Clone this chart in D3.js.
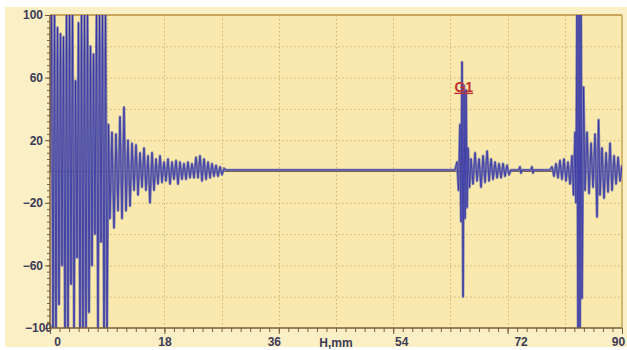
<!DOCTYPE html>
<html>
<head>
<meta charset="utf-8">
<script src="https://cdn.jsdelivr.net/npm/d3@7"></script>
<style>
  html, body { margin: 0; padding: 0; background: #ffffff; }
  svg { display: block; }
</style>
</head>
<body>
<svg id="chart" width="627" height="350"></svg>
<script>
// ---------------- DATA ----------------
const xDomain = [0, 90];          // H, mm
const yDomain = [-100, 100];      // amplitude, %
const xTickLabels = [0, 18, 36, 54, 72, 90];
const yTickLabels = [100, 60, 20, -20, -60, -100];
const xAxisTitle = "H,mm";
const gateLabel = "G1";
const gatePos = [65.1, 51];       // [mm, %] where the G1 label sits

// initial pulse / near-field burst: [mm, %]
const burst = [
  [0.00,0],[0.24,100],[0.47,-100],[0.71,100],[0.94,-100],[1.18,92],[1.42,-85],[1.65,88],[1.89,-60],[2.12,86],
  [2.36,-100],[2.60,100],[2.83,-100],[3.07,100],[3.30,-72],[3.54,100],[3.78,-100],[4.01,58],[4.25,-55],[4.48,95],
  [4.72,-100],[4.96,100],[5.19,-100],[5.43,100],[5.66,-100],[5.90,100],[6.14,-90],[6.37,80],[6.61,-60],[6.84,75],
  [7.08,-40],[7.32,100],[7.55,-100],[7.79,100],[8.02,-45],[8.26,100],[8.50,-100],[8.73,100],[8.97,-100],[9.20,30],
  [9.44,-30],[9.75,25],[10.07,-36],[10.38,24],[10.70,-25],[11.01,35],[11.33,-30],[11.64,41],[11.96,-25],[12.27,20],
  [12.59,-22],[12.90,18],[13.22,-12],[13.53,17],[13.85,-15],[14.16,12],[14.48,-10],[14.79,15],[15.10,-12],[15.42,10],
  [15.73,-20],[16.05,12],[16.36,-12],[16.68,8],[16.99,-8],[17.31,10],[17.62,-7],[17.94,6],[18.25,-6],[18.57,8],
  [18.88,-8],[19.20,6],[19.51,-5],[19.83,7],[20.14,-8],[20.45,6],[20.77,-5],[21.08,5],[21.40,-5],[21.71,6],
  [22.03,-4],[22.34,5],[22.66,-4],[22.97,9],[23.29,-4],[23.60,10],[23.92,-6],[24.23,8],[24.55,-5],[24.86,6],
  [25.18,-4],[25.49,5],[25.80,-3],[26.12,4],[26.43,-3],[26.75,3],[27.06,-2],[27.38,2],[27.69,1]
];

// flaw echo inside gate G1: [mm, %]
const echoG1 = [
  [63.73,1],[64.04,6],[64.28,-12],[64.51,30],[64.67,-32],[64.83,70],[64.99,-80],[65.14,55],[65.30,-30],[65.46,52],
  [65.62,-23],[65.77,15],[66.01,-10],[66.25,8],[66.56,-8],[66.88,12],[67.19,-6],[67.51,8],[67.82,-10],[68.14,10],
  [68.45,-7],[68.77,13],[69.08,-6],[69.40,8],[69.71,-5],[70.02,6],[70.34,-4],[70.65,5],[70.97,-4],[71.28,5],
  [71.60,-3],[71.91,4],[72.23,-2],[72.54,1],[73.78,1],[73.94,3],[74.10,-1],[74.25,1],[75.67,1],[75.83,3],
  [75.99,-1],[76.14,1]
];

// back-wall echo: [mm, %]
const backWall = [
  [78.67,1],[78.98,3],[79.30,-3],[79.61,5],[79.93,-4],[80.24,7],[80.56,-5],[80.87,8],[81.19,-6],[81.50,6],
  [81.82,-8],[82.13,10],[82.37,-15],[82.61,25],[82.76,-20],[82.92,100],[83.08,-100],[83.24,100],[83.39,-100],[83.55,100],
  [83.71,-81],[83.95,54],[84.18,-12],[84.50,25],[84.81,-14],[85.13,18],[85.44,-10],[85.76,24],[86.07,-29],[86.31,33],
  [86.54,-15],[86.86,15],[87.17,-17],[87.49,12],[87.80,-13],[88.12,18],[88.43,-12],[88.75,10],[89.06,-8],[89.38,9],
  [89.69,-6],[90.00,4]
];

const signal = burst.concat(echoG1, backWall);

// ---------------- LAYOUT ----------------
const W = 627, H = 350;
const plot = { left: 50, right: 622, top: 15, bottom: 328 };
const svg = d3.select("#chart");

const x = d3.scaleLinear().domain(xDomain).range([plot.left, plot.right]);
const y = d3.scaleLinear().domain(yDomain).range([plot.bottom, plot.top]);

const C = {
  panel: "#fbefc6",
  plot: "#f9e9af",
  grid: "#d2b266",
  axis: "#7d5c3c",
  frame: "#c9a45a",
  text: "#3b3b58",
  lineHalo: "#7474aa",
  line: "#2626a8",
  gate: "#c0322c"
};

// panel background (white margins top/left/bottom)
svg.append("rect").attr("x", 5).attr("y", 7).attr("width", W - 5).attr("height", 340).attr("fill", C.panel);
svg.append("rect").attr("x", plot.left).attr("y", plot.top)
  .attr("width", plot.right - plot.left).attr("height", plot.bottom - plot.top).attr("fill", C.plot);

// grid
const gGrid = svg.append("g");
gGrid.selectAll("line.h").data(d3.range(-80, 81, 20).filter(v => v !== 0)).join("line")
  .attr("x1", plot.left).attr("x2", plot.right)
  .attr("y1", d => y(d) + 0.5).attr("y2", d => y(d) + 0.5)
  .attr("stroke", C.grid).attr("stroke-width", 1).attr("stroke-dasharray", "1.5,2.5");
gGrid.selectAll("line.v").data(d3.range(9, 90, 9)).join("line")
  .attr("y1", plot.top).attr("y2", plot.bottom)
  .attr("x1", d => Math.round(x(d)) + 0.5).attr("x2", d => Math.round(x(d)) + 0.5)
  .attr("stroke", C.grid).attr("stroke-width", 1).attr("stroke-dasharray", "1.5,2.5");

// frame top / right
svg.append("line").attr("x1", plot.left).attr("x2", plot.right).attr("y1", plot.top).attr("y2", plot.top)
  .attr("stroke", C.frame).attr("stroke-width", 2);
svg.append("line").attr("x1", plot.right).attr("x2", plot.right).attr("y1", plot.top).attr("y2", plot.bottom)
  .attr("stroke", C.frame).attr("stroke-width", 1.5);

// zero line
svg.append("line").attr("x1", plot.left).attr("x2", plot.right).attr("y1", y(0)).attr("y2", y(0))
  .attr("stroke", C.axis).attr("stroke-width", 1.2);

// signal
svg.append("clipPath").attr("id", "clip").append("rect")
  .attr("x", plot.left).attr("y", plot.top).attr("width", plot.right - plot.left).attr("height", plot.bottom - plot.top);
const line = d3.line().x(d => x(d[0])).y(d => y(d[1]));
const gSig = svg.append("g").attr("clip-path", "url(#clip)");
gSig.append("path").datum(signal).attr("d", line).attr("fill", "none")
  .attr("stroke", C.lineHalo).attr("stroke-width", 2.6).attr("stroke-linejoin", "round").attr("opacity", 0.9);
gSig.append("path").datum(signal).attr("d", line).attr("fill", "none")
  .attr("stroke", C.line).attr("stroke-width", 0.8).attr("stroke-linejoin", "round").attr("opacity", 0.85);

// Y axis: minor ticks
const gY = svg.append("g").attr("transform", `translate(${plot.left},0)`);
gY.call(d3.axisLeft(y).tickValues(d3.range(-100, 101, 4)).tickSize(3).tickFormat(""))
  .call(g => g.select(".domain").remove())
  .call(g => g.selectAll("line").attr("stroke", C.axis));
gY.append("g").call(d3.axisLeft(y).tickValues(yTickLabels).tickSize(5).tickPadding(2).tickFormat(d3.format("d")))
  .call(g => g.select(".domain").remove())
  .call(g => g.selectAll("line").attr("stroke", C.axis))
  .call(g => g.selectAll("text")
    .attr("fill", C.text).attr("font-family", "'Liberation Sans', Arial, sans-serif")
    .attr("font-weight", "bold").attr("font-size", 12)
    .attr("dx", d => d === -100 ? 9 : 0));
gY.append("line").attr("x1", 0).attr("x2", 0).attr("y1", plot.top).attr("y2", plot.bottom)
  .attr("stroke", C.axis).attr("stroke-width", 1.5);

// X axis
const gX = svg.append("g").attr("transform", `translate(0,${plot.bottom})`);
gX.call(d3.axisBottom(x).tickValues(d3.range(0, 90.01, 1.5)).tickSize(4).tickFormat(""))
  .call(g => g.select(".domain").remove())
  .call(g => g.selectAll("line").attr("stroke", C.axis));
const labelDx = { 0: 7, 18: 0, 36: -5, 54: 8, 72: 13, 90: -4 };
gX.append("g").call(d3.axisBottom(x).tickValues(xTickLabels).tickSize(6).tickPadding(3).tickFormat(d3.format("d")))
  .call(g => g.select(".domain").remove())
  .call(g => g.selectAll("line").attr("stroke", C.axis))
  .call(g => g.selectAll("text")
    .attr("fill", C.text).attr("font-family", "'Liberation Sans', Arial, sans-serif")
    .attr("font-weight", "bold").attr("font-size", 12)
    .attr("dx", d => labelDx[d] || 0));
gX.append("line").attr("x1", plot.left).attr("x2", plot.right).attr("y1", 0).attr("y2", 0)
  .attr("stroke", C.axis).attr("stroke-width", 1.5);
gX.append("text").attr("x", x(45)).attr("y", 19).attr("text-anchor", "middle")
  .attr("fill", C.text).attr("font-family", "'Liberation Sans', Arial, sans-serif")
  .attr("font-weight", "bold").attr("font-size", 12).text(xAxisTitle);

// gate label
svg.append("text").attr("x", x(gatePos[0])).attr("y", y(gatePos[1]))
  .attr("fill", C.gate).attr("font-family", "'Liberation Sans', Arial, sans-serif")
  .attr("font-weight", "bold").attr("font-size", 14).attr("text-decoration", "underline")
  .attr("text-anchor", "middle").text(gateLabel);
</script>
</body>
</html>
